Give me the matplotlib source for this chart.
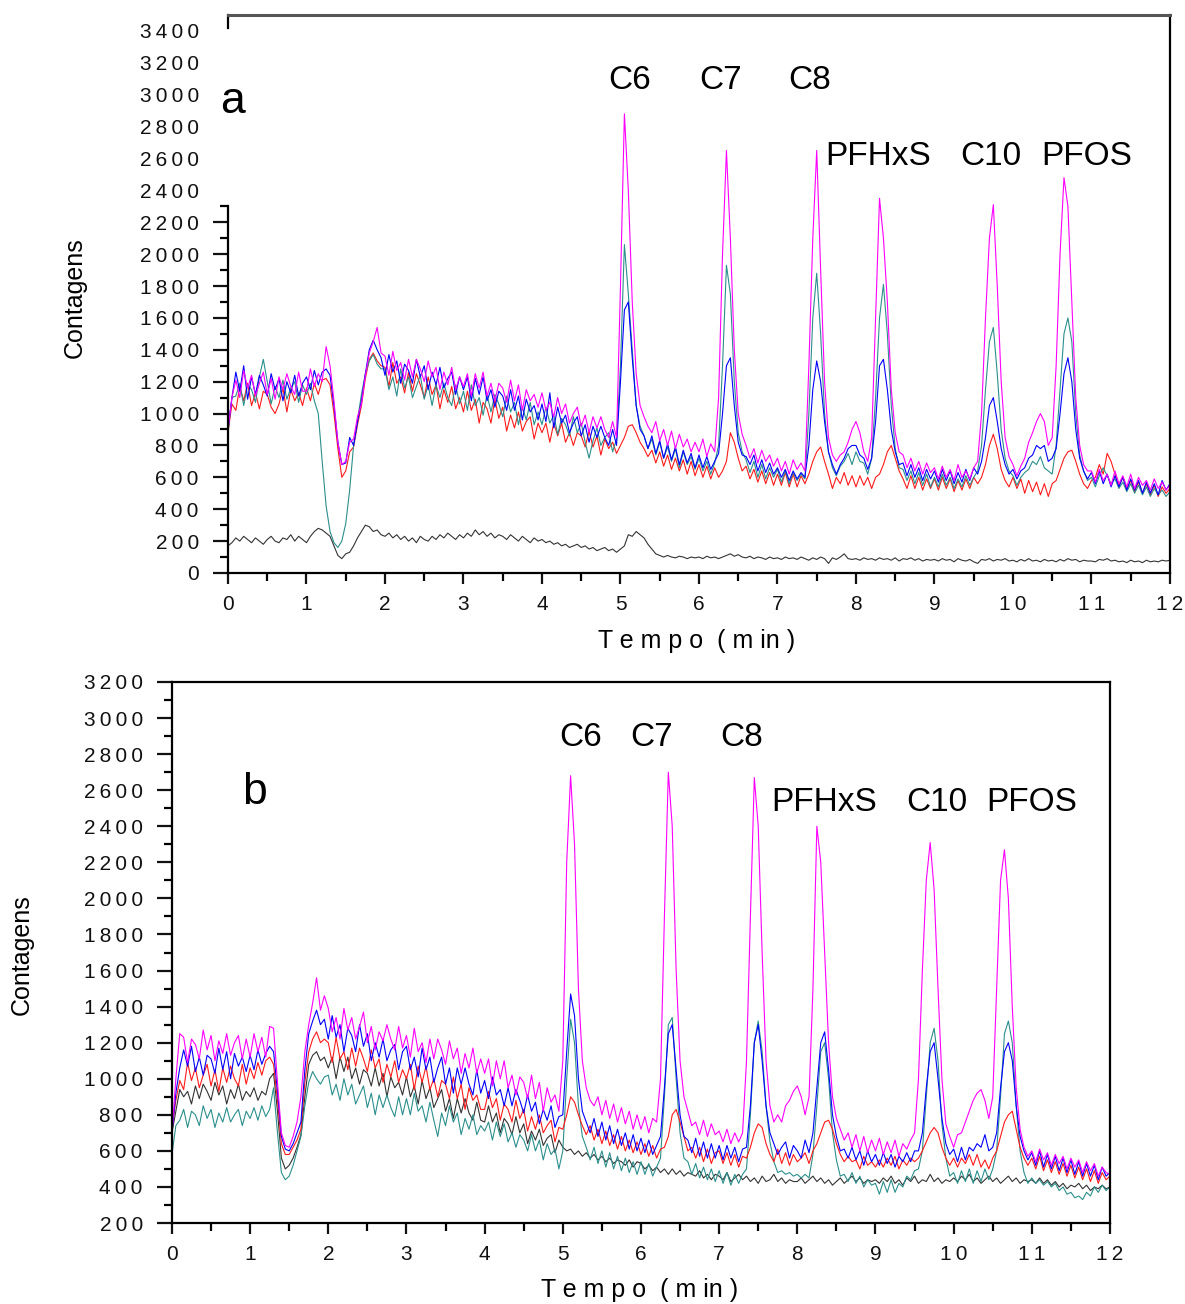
import numpy as np
import matplotlib.pyplot as plt
from matplotlib.ticker import FixedLocator, MultipleLocator, FuncFormatter

plt.rcParams['font.family'] = ['Liberation Sans', 'DejaVu Sans']

# tempo de retencao (min), um ponto a cada 0.05 min
tempo = np.linspace(0, 12, 241)

# ---------------- painel a ----------------
a_magenta = [
    900, 1100, 1210, 1100, 1270, 1160, 1240, 1110, 1190, 1260, 1120, 1220, 1090, 1230, 1150, 1250, 1170, 1120, 1260, 1140,
    1140, 1280, 1170, 1250, 1200, 1420, 1300, 1080, 820, 680, 700, 820, 840, 980, 1060, 1240, 1380, 1450, 1540, 1380,
    1360, 1240, 1390, 1270, 1320, 1210, 1340, 1230, 1340, 1280, 1200, 1330, 1230, 1290, 1150, 1260, 1180, 1290, 1150, 1230,
    1170, 1250, 1110, 1250, 1160, 1260, 1110, 1190, 1080, 1190, 1160, 1070, 1210, 1080, 1180, 1020, 1150, 1080, 1120, 1040,
    1130, 1020, 1070, 980, 1100, 1000, 1060, 940, 1000, 1040, 920, 990, 880, 980, 910, 980, 900, 850, 950, 850,
    1800, 2880, 2400, 1700, 1250, 1050, 980, 920, 880, 950, 830, 900, 800, 890, 780, 870, 790, 840, 760, 820,
    760, 840, 730, 810, 760, 1100, 2000, 2650, 2100, 1400, 1000, 870, 800, 720, 780, 690, 770, 700, 740, 670,
    720, 640, 700, 620, 710, 650, 690, 640, 1300, 2100, 2650, 1900, 1200, 850, 740, 700, 740, 760, 820, 900,
    950, 880, 760, 700, 850, 1600, 2350, 2100, 1700, 1150, 880, 760, 740, 660, 720, 640, 700, 620, 690, 630,
    660, 590, 670, 600, 650, 580, 680, 600, 640, 590, 660, 700, 1000, 1600, 2100, 2310, 1800, 1200, 850, 730,
    680, 610, 670, 720, 820, 880, 950, 1000, 950, 800, 850, 1300, 2000, 2480, 2300, 1700, 1100, 800, 680, 640,
    640, 570, 650, 580, 620, 550, 640, 560, 610, 540, 620, 530, 600, 550, 580, 520, 590, 530, 570, 520,
    550]
a_teal = [
    880, 1100, 1110, 1190, 1050, 1180, 1150, 1070, 1230, 1340, 1200, 1060, 1170, 1100, 1210, 1090, 1160, 1200, 1070, 1180,
    1120, 1190, 1080, 1000, 700, 420, 260, 190, 160, 200, 310, 520, 800, 960, 1120, 1250, 1330, 1370, 1310, 1280,
    1280, 1150, 1230, 1110, 1280, 1160, 1230, 1100, 1170, 1240, 1090, 1180, 1050, 1180, 1100, 1190, 1100, 1050, 1180, 1060,
    1140, 1020, 1180, 1050, 1100, 990, 1120, 1010, 1120, 1060, 980, 1110, 1010, 1070, 930, 1040, 960, 1070, 930, 1010,
    930, 1040, 940, 990, 870, 970, 930, 860, 980, 880, 940, 820, 720, 830, 910, 800, 850, 880, 760, 840,
    1300, 2060, 1750, 1400, 1050, 920, 860, 780, 840, 740, 820, 720, 790, 700, 780, 660, 760, 680, 730, 650,
    720, 640, 700, 620, 690, 800, 1300, 1930, 1750, 1200, 880, 760, 710, 630, 700, 600, 680, 590, 660, 600,
    650, 570, 640, 560, 630, 580, 620, 590, 1000, 1600, 1880, 1500, 1000, 760, 660, 610, 670, 700, 750, 680,
    760, 700, 690, 620, 720, 1100, 1600, 1810, 1500, 1050, 780, 660, 650, 580, 640, 560, 630, 550, 620, 540,
    600, 540, 620, 550, 600, 530, 590, 540, 610, 550, 600, 640, 800, 1150, 1450, 1540, 1250, 900, 720, 640,
    610, 550, 600, 630, 650, 700, 680, 730, 660, 640, 620, 800, 1150, 1500, 1600, 1450, 1000, 740, 640, 580,
    600, 540, 610, 660, 610, 560, 590, 530, 570, 510, 560, 500, 550, 490, 540, 480, 530, 490, 520, 480,
    510]
a_blue = [
    900, 1100, 1260, 1140, 1300, 1090, 1230, 1120, 1240, 1180, 1110, 1250, 1150, 1220, 1080, 1200, 1130, 1240, 1110, 1190,
    1230, 1150, 1270, 1180, 1260, 1280, 1240, 1050, 820, 680, 690, 850, 800, 950, 1080, 1250, 1400, 1460, 1400, 1350,
    1240, 1370, 1260, 1330, 1190, 1310, 1270, 1190, 1340, 1230, 1300, 1150, 1260, 1180, 1290, 1160, 1220, 1260, 1120, 1230,
    1150, 1230, 1080, 1220, 1120, 1230, 1080, 1150, 1040, 1140, 1110, 1020, 1150, 1020, 1110, 960, 1090, 1010, 1050, 960,
    1060, 950, 1130, 910, 1040, 940, 990, 880, 940, 980, 860, 930, 820, 920, 850, 920, 850, 800, 900, 800,
    1200, 1650, 1700, 1350, 1050, 900, 860, 780, 860, 750, 830, 720, 810, 710, 790, 680, 770, 690, 750, 660,
    740, 660, 730, 650, 700, 750, 1000, 1300, 1350, 1050, 820, 740, 730, 680, 740, 640, 710, 630, 690, 620,
    660, 600, 650, 580, 640, 590, 630, 600, 800, 1150, 1330, 1200, 950, 760, 680, 620, 680, 720, 780, 800,
    800, 740, 720, 650, 720, 950, 1300, 1340, 1150, 900, 760, 680, 690, 610, 680, 600, 660, 580, 650, 590,
    640, 570, 650, 580, 640, 560, 630, 570, 650, 580, 660, 620, 700, 850, 1050, 1100, 950, 780, 680, 620,
    650, 590, 640, 660, 720, 740, 800, 780, 800, 700, 720, 780, 1000, 1250, 1350, 1200, 900, 720, 640, 590,
    630, 560, 640, 560, 620, 540, 610, 540, 600, 520, 590, 520, 580, 500, 570, 500, 560, 490, 580, 520,
    560]
a_red = [
    880, 1060, 1020, 1170, 1080, 1190, 1050, 1130, 1030, 1140, 1120, 1040, 1000, 1060, 1160, 1010, 1150, 1080, 1130, 1050,
    1160, 1080, 1190, 1120, 1210, 1220, 1180, 1000, 780, 600, 640, 760, 790, 930, 1050, 1220, 1340, 1380, 1330, 1300,
    1290, 1170, 1320, 1190, 1230, 1130, 1260, 1140, 1250, 1180, 1100, 1230, 1120, 1180, 1030, 1150, 1070, 1170, 1030, 1100,
    1010, 1140, 1020, 1090, 940, 1070, 1030, 940, 1090, 970, 1040, 890, 990, 910, 1010, 890, 950, 980, 840, 940,
    880, 940, 820, 940, 860, 940, 820, 880, 800, 880, 860, 790, 890, 790, 860, 740, 840, 780, 820, 750,
    800, 850, 920, 930, 880, 820, 780, 730, 770, 690, 760, 670, 740, 650, 720, 640, 710, 620, 700, 610,
    680, 600, 670, 590, 660, 600, 640, 700, 880, 820, 720, 640, 670, 590, 650, 570, 640, 560, 630, 550,
    620, 550, 630, 540, 620, 540, 610, 560, 620, 700, 760, 790, 700, 620, 530, 600, 560, 630, 550, 610,
    540, 610, 550, 600, 530, 600, 620, 680, 760, 800, 720, 640, 590, 530, 610, 530, 600, 520, 590, 530,
    590, 520, 600, 530, 590, 510, 580, 520, 590, 530, 600, 560, 600, 680, 800, 870, 780, 650, 580, 540,
    600, 530, 590, 500, 580, 510, 570, 490, 560, 480, 560, 580, 650, 720, 760, 770, 700, 620, 560, 530,
    580, 600, 680, 620, 750, 700, 620, 550, 600, 530, 580, 510, 570, 500, 560, 490, 550, 480, 540, 500,
    530]
a_black = [
    170, 190, 220, 200, 230, 210, 190, 220, 200, 180, 210, 230, 200, 190, 220, 210, 240, 200, 230, 210,
    190, 230, 260, 280, 270, 250, 230, 170, 110, 90, 120, 130, 170, 220, 260, 300, 290, 260, 270, 240,
    230, 250, 220, 240, 210, 230, 200, 220, 190, 230, 210, 200, 230, 210, 240, 220, 250, 230, 210, 240,
    220, 250, 230, 270, 240, 260, 230, 250, 220, 240, 230, 210, 240, 220, 200, 230, 210, 190, 220, 200,
    210, 190, 200, 180, 190, 170, 180, 160, 170, 180, 160, 170, 150, 160, 140, 150, 160, 140, 150, 130,
    150, 170, 240, 230, 260, 240, 220, 180, 150, 120, 110, 100, 110, 100, 95, 105, 100, 90, 100, 95,
    100, 90, 105, 95, 100, 90, 100, 110, 120, 105, 115, 100, 95, 105, 90, 100, 95, 85, 100, 90,
    95, 85, 100, 90, 95, 85, 100, 90, 80, 95, 85, 100, 90, 60, 95, 85, 100, 120, 90, 85,
    90, 80, 95, 85, 90, 80, 95, 85, 90, 80, 95, 75, 90, 85, 95, 80, 90, 75, 85, 80,
    85, 75, 90, 80, 85, 70, 90, 80, 75, 85, 70, 60, 85, 80, 90, 75, 85, 80, 90, 75,
    80, 70, 85, 75, 90, 75, 80, 70, 85, 75, 80, 70, 85, 75, 90, 80, 85, 70, 80, 75,
    75, 70, 85, 80, 90, 75, 80, 70, 75, 65, 80, 70, 75, 65, 80, 70, 75, 70, 80, 75,
    80]

# ---------------- painel b ----------------
b_magenta = [
    700, 1000, 1250, 1230, 1090, 1220, 1190, 1110, 1270, 1160, 1240, 1100, 1210, 1140, 1250, 1130, 1200, 1240, 1110, 1220,
    1120, 1250, 1150, 1230, 1120, 1290, 1280, 980, 700, 630, 620, 680, 760, 900, 1150, 1300, 1420, 1560, 1380, 1460,
    1390, 1260, 1340, 1220, 1390, 1270, 1340, 1220, 1290, 1370, 1200, 1290, 1160, 1260, 1210, 1300, 1220, 1160, 1290, 1170,
    1240, 1120, 1280, 1150, 1200, 1090, 1220, 1110, 1220, 1160, 1080, 1210, 1110, 1170, 1030, 1140, 1060, 1170, 1030, 1110,
    1030, 1110, 960, 1100, 1000, 1100, 950, 1020, 910, 1010, 980, 890, 1020, 890, 980, 820, 950, 870, 910, 820,
    1100, 2200, 2680, 2300, 1500, 1100, 950, 880, 850, 900, 800, 880, 780, 860, 760, 840, 750, 820, 720, 800,
    720, 790, 700, 780, 760, 1000, 1900, 2700, 2400, 1600, 1100, 900, 820, 740, 760, 690, 770, 680, 750, 690,
    710, 650, 720, 640, 700, 650, 700, 1100, 1900, 2670, 2400, 1700, 1100, 850, 760, 800, 760, 850, 880, 930,
    960, 900, 800, 900, 1500, 2400, 2200, 1700, 1200, 900, 780, 720, 660, 700, 620, 690, 600, 680, 590, 660,
    600, 670, 580, 650, 590, 660, 570, 640, 610, 660, 700, 1000, 1600, 2100, 2310, 2050, 1500, 1000, 750, 680,
    620, 690, 700, 760, 820, 880, 920, 940, 880, 780, 900, 1500, 2100, 2270, 2000, 1400, 950, 720, 620, 570,
    600, 540, 610, 550, 590, 520, 580, 530, 570, 500, 560, 510, 550, 480, 540, 490, 530, 460, 510, 480,
    470]
b_blue = [
    700, 920, 1060, 1160, 1070, 1180, 1040, 1120, 1020, 1130, 1110, 1030, 1170, 1050, 1150, 1000, 1140, 1070, 1120, 1040,
    1130, 1050, 1160, 1080, 1140, 1180, 1150, 930, 680, 610, 600, 640, 700, 760, 1050, 1250, 1320, 1380, 1300, 1330,
    1220, 1350, 1230, 1300, 1150, 1280, 1240, 1150, 1300, 1180, 1250, 1100, 1200, 1120, 1220, 1100, 1160, 1190, 1050, 1150,
    1180, 1050, 1120, 1010, 1170, 1050, 1120, 980, 1060, 1120, 970, 1060, 920, 1060, 970, 1060, 970, 910, 1050, 920,
    990, 890, 1010, 910, 940, 850, 950, 850, 940, 880, 810, 910, 820, 870, 750, 830, 770, 850, 730, 790,
    800, 1150, 1470, 1350, 1000, 820, 760, 700, 780, 680, 760, 660, 740, 640, 720, 630, 700, 610, 690, 600,
    670, 590, 660, 580, 630, 680, 950, 1250, 1300, 1050, 800, 680, 660, 590, 670, 570, 650, 560, 640, 560,
    630, 550, 630, 560, 620, 540, 610, 620, 850, 1200, 1300, 1100, 850, 700, 640, 580, 620, 650, 560, 630,
    600, 560, 660, 590, 700, 950, 1200, 1260, 1050, 800, 680, 600, 610, 560, 620, 550, 600, 520, 600, 540,
    580, 520, 590, 530, 580, 510, 570, 540, 590, 540, 600, 600, 700, 950, 1150, 1200, 1000, 780, 640, 580,
    610, 540, 620, 550, 620, 600, 640, 620, 690, 600, 620, 700, 950, 1150, 1200, 1100, 850, 680, 600, 550,
    590, 520, 600, 510, 580, 500, 570, 490, 560, 480, 550, 470, 540, 460, 530, 460, 520, 440, 510, 460,
    480]
b_red = [
    720, 880, 990, 940, 1090, 990, 1060, 950, 1020, 1080, 960, 1050, 930, 1060, 980, 1070, 1000, 960, 1080, 970,
    1060, 1000, 1090, 1020, 1100, 1120, 1080, 880, 640, 580, 580, 620, 660, 720, 980, 1150, 1220, 1260, 1200, 1220,
    1200, 1090, 1230, 1110, 1150, 1050, 1170, 1070, 1170, 1110, 1040, 1160, 1060, 1110, 980, 1080, 1010, 1100, 980, 1050,
    1000, 1080, 940, 1070, 980, 1070, 940, 1000, 900, 990, 970, 890, 1010, 890, 970, 830, 950, 880, 910, 830,
    830, 930, 840, 890, 770, 860, 830, 760, 880, 780, 830, 710, 790, 720, 800, 700, 740, 770, 650, 730,
    720, 800, 900, 870, 800, 740, 690, 740, 660, 720, 640, 710, 630, 690, 610, 680, 600, 660, 590, 650,
    580, 640, 570, 630, 560, 610, 620, 680, 800, 830, 760, 680, 600, 620, 560, 620, 540, 610, 530, 590,
    600, 530, 590, 520, 580, 510, 570, 560, 620, 700, 750, 730, 640, 580, 540, 610, 530, 590, 520, 580,
    540, 560, 590, 530, 600, 640, 700, 760, 770, 720, 640, 580, 540, 570, 540, 550, 500, 570, 520, 540,
    510, 550, 510, 560, 520, 570, 500, 550, 520, 560, 540, 560, 600, 650, 700, 730, 700, 620, 560, 520,
    560, 510, 560, 530, 580, 520, 580, 510, 550, 500, 560, 600, 680, 760, 800, 820, 720, 620, 560, 520,
    560, 500, 570, 490, 550, 480, 540, 470, 530, 460, 520, 450, 510, 440, 500, 430, 490, 420, 480, 440,
    460]
b_black = [
    700, 820, 940, 900, 930, 860, 960, 890, 970, 930, 880, 980, 910, 960, 860, 940, 890, 970, 880, 930,
    900, 950, 880, 930, 910, 1000, 1030, 820, 560, 500, 520, 560, 620, 690, 900, 1080, 1130, 1150, 1100, 1120,
    1060, 1120, 1000, 1120, 1040, 1120, 1000, 1060, 970, 1050, 1030, 960, 1060, 960, 1030, 900, 1010, 950, 980, 910,
    1010, 900, 960, 860, 990, 890, 950, 840, 890, 940, 820, 890, 780, 890, 810, 890, 810, 770, 870, 770,
    760, 850, 760, 810, 700, 780, 750, 690, 790, 700, 750, 640, 710, 660, 720, 630, 670, 690, 590, 660,
    620, 600, 610, 580, 600, 570, 590, 560, 580, 550, 570, 540, 560, 530, 550, 540, 520, 550, 510, 540,
    530, 500, 520, 490, 510, 480, 500, 470, 500, 470, 490, 460, 480, 470, 460, 490, 450, 470, 440, 470,
    460, 440, 480, 430, 450, 470, 440, 460, 430, 450, 420, 460, 430, 440, 470, 430, 450, 420, 440, 430,
    430, 450, 420, 440, 460, 430, 450, 420, 440, 410, 430, 450, 420, 440, 460, 430, 450, 420, 440, 430,
    440, 420, 450, 430, 460, 420, 440, 410, 450, 430, 460, 420, 440, 430, 470, 430, 450, 420, 440, 430,
    450, 430, 460, 440, 470, 430, 450, 420, 440, 460, 430, 450, 420, 440, 460, 430, 450, 420, 440, 430,
    440, 420, 450, 420, 440, 410, 430, 400, 420, 390, 410, 400, 420, 390, 410, 380, 400, 390, 410, 390,
    400]
b_teal = [
    580, 740, 770, 830, 730, 820, 800, 740, 850, 780, 830, 730, 810, 760, 840, 760, 800, 830, 740, 820,
    780, 840, 770, 850, 790, 830, 950, 700, 480, 440, 460, 520, 600, 680, 850, 980, 1040, 1000, 970, 1010,
    1020, 910, 970, 880, 1000, 910, 970, 860, 910, 960, 840, 920, 800, 910, 840, 910, 840, 790, 900, 800,
    890, 800, 920, 820, 850, 760, 870, 770, 680, 810, 740, 850, 760, 810, 690, 780, 720, 800, 690, 740,
    710, 760, 660, 760, 680, 750, 650, 700, 620, 690, 660, 600, 690, 600, 660, 550, 640, 580, 610, 500,
    600, 1000, 1330, 1200, 850, 680, 620, 550, 620, 530, 600, 510, 590, 500, 570, 490, 560, 480, 540, 470,
    540, 470, 530, 460, 510, 560, 900, 1300, 1340, 1000, 700, 560, 540, 470, 530, 450, 510, 440, 500, 430,
    490, 420, 480, 410, 470, 420, 470, 500, 800, 1200, 1320, 1150, 850, 650, 540, 480, 490, 470, 480, 460,
    470, 450, 470, 450, 580, 850, 1150, 1200, 1000, 700, 550, 460, 470, 430, 480, 420, 460, 400, 440, 410,
    420, 360, 430, 370, 440, 370, 420, 400, 460, 440, 490, 500, 600, 900, 1200, 1280, 1100, 750, 560, 460,
    480, 420, 490, 430, 500, 420, 490, 430, 500, 440, 500, 600, 900, 1250, 1320, 1200, 850, 600, 480, 420,
    450, 420, 440, 410, 430, 400, 420, 380, 400, 360, 370, 340, 350, 330, 370, 350, 400, 370, 410, 380,
    400]

picos = ['C6', 'C7', 'C8', 'PFHxS', 'C10', 'PFOS']

cores = {'black': '#333333', 'red': '#ff1a1a', 'teal': '#2b8f8c',
         'blue': '#0000ff', 'magenta': '#ff00ff'}


def espaco(v, pos):
    # numeros com letras espacadas, como no original
    return '\u2009'.join(str(int(round(v))))


def estilo(ax, ymin, ymax):
    ax.set_xlim(0, 12)
    ax.set_ylim(ymin, ymax)
    ax.xaxis.set_major_locator(MultipleLocator(1))
    ax.xaxis.set_minor_locator(MultipleLocator(0.5))
    ax.xaxis.set_major_formatter(FuncFormatter(espaco))
    ax.yaxis.set_major_formatter(FuncFormatter(espaco))
    ax.tick_params(which='major', direction='out', width=1.6, labelsize=15,
                   colors='#111111')
    ax.tick_params(axis='y', which='major', length=11, pad=10)
    ax.tick_params(axis='x', which='major', length=8, pad=8)
    ax.tick_params(axis='y', which='minor', direction='out', length=5.5, width=1.6)
    ax.tick_params(axis='x', which='minor', direction='out', length=6, width=1.6)
    for s in ax.spines.values():
        s.set_linewidth(1.6)


fig = plt.figure(figsize=(11.85, 13.04), dpi=100)

# painel a
ax = fig.add_axes([0.1924, 0.5606, 0.7949, 0.4279])
for serie, c in [(a_black, 'black'), (a_red, 'red'), (a_teal, 'teal'),
                 (a_blue, 'blue'), (a_magenta, 'magenta')]:
    ax.plot(tempo, serie, color=cores[c], lw=0.8)
estilo(ax, 0, 3500)
ax.yaxis.set_major_locator(FixedLocator(np.arange(0, 3401, 200)))
ax.yaxis.set_minor_locator(FixedLocator(np.arange(100, 2301, 200)))
ax.spines['left'].set_bounds(0, 2300)
ax.spines['top'].set_color('#555555')
ax.spines['top'].set_linewidth(2.2)
for loc, tk in zip(ax.get_yticks(), ax.yaxis.get_major_ticks()):
    if loc > 2300:
        tk.tick1line.set_visible(False)
ax.plot([0, 0], [3500, 3420], color='k', lw=1.6, clip_on=False)
ax.text(0.06, 2960, 'a', fontsize=32, ha='center', va='center')
pos_a = [(5.12, 3090), (6.27, 3090), (7.41, 3090),
         (8.28, 2610), (9.72, 2610), (10.94, 2610)]
for nome, (x, y) in zip(picos, pos_a):
    ax.text(x, y, nome, fontsize=24, ha='center', va='center')

# painel b
bx = fig.add_axes([0.1451, 0.0621, 0.7916, 0.4149])
for serie, c in [(b_black, 'black'), (b_teal, 'teal'), (b_red, 'red'),
                 (b_blue, 'blue'), (b_magenta, 'magenta')]:
    bx.plot(tempo, serie, color=cores[c], lw=0.8)
estilo(bx, 200, 3200)
bx.yaxis.set_major_locator(MultipleLocator(200))
bx.yaxis.set_minor_locator(MultipleLocator(100))
bx.text(1.06, 2590, 'b', fontsize=32, ha='center', va='center')
pos_b = [(5.23, 2890), (6.14, 2890), (7.29, 2890),
         (8.34, 2530), (9.78, 2530), (11.0, 2530)]
for nome, (x, y) in zip(picos, pos_b):
    bx.text(x, y, nome, fontsize=24, ha='center', va='center')

# rotulos dos eixos
rot_x = 'T e m p o  ( m in )'
fig.text(697 / 1185, 1 - 641 / 1304, rot_x, fontsize=18, ha='center', va='center')
fig.text(640 / 1185, 1 - 1290 / 1304, rot_x, fontsize=18, ha='center', va='center')
fig.text(75 / 1185, 1 - 298 / 1304, 'Contagens', fontsize=18, rotation=90,
         ha='center', va='center')
fig.text(22 / 1185, 1 - 955 / 1304, 'Contagens', fontsize=18, rotation=90,
         ha='center', va='center')

fig.savefig('out.png', dpi=100)
